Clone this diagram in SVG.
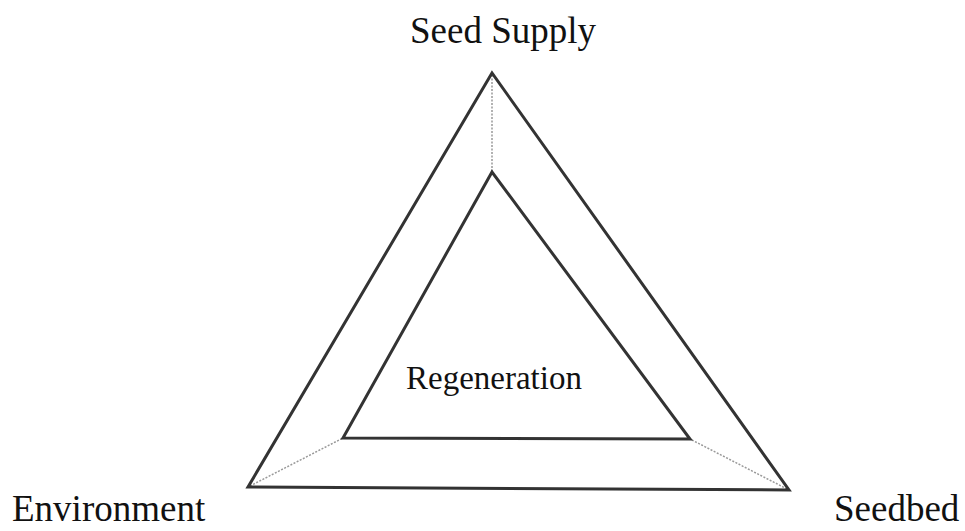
<svg xmlns="http://www.w3.org/2000/svg" width="965" height="531" viewBox="0 0 965 531">
<style>
.t{font-family:"Liberation Serif","Times New Roman",serif;fill:#111}
.tri{fill:none;stroke:#333;stroke-width:3;stroke-linejoin:miter}
.dot{stroke:#999;stroke-width:1.5;stroke-dasharray:2 1.5;fill:none}
</style>
<rect width="965" height="531" fill="#fff"/>
<g id="connectors">
<line class="dot" x1="492" y1="75" x2="492" y2="172"/>
<line class="dot" x1="250" y1="486" x2="343" y2="438"/>
<line class="dot" x1="787" y1="489" x2="690" y2="439"/>
</g>
<g id="outer">
<polygon class="tri" points="492,73 248,487 789,490"/>
</g>
<g id="inner">
<polygon class="tri" points="492,172 343,438 690,439"/>
</g>
<g id="seed-supply"><text class="t" x="503" y="43" font-size="37" text-anchor="middle">Seed Supply</text></g>
<g id="regeneration"><text class="t" x="494" y="389" font-size="33" text-anchor="middle">Regeneration</text></g>
<g id="environment"><text class="t" x="12" y="521" font-size="37">Environment</text></g>
<g id="seedbed"><text class="t" x="834" y="521" font-size="37">Seedbed</text></g>
</svg>
